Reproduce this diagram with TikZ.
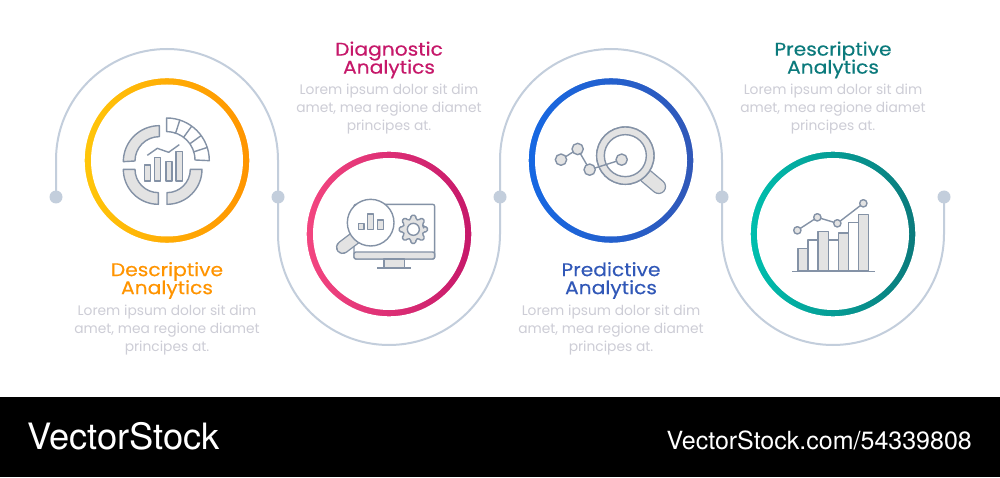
\documentclass[tikz,border=0pt]{standalone}
\usepackage{fontspec}
\usepackage{tikz}
\setmainfont{Poppins}
\newfontfamily\titlefont[FakeBold=0.35,FakeStretch=1.1]{Poppins}
\newfontfamily\markfont{TeX Gyre Heros}
\newcommand{\tightlines}{\lineskiplimit -20pt\relax}
\definecolor{trackgray}{HTML}{C3CEDC}
\definecolor{icongray}{HTML}{8492A6}
\definecolor{fillgray}{HTML}{E3E3E3}
\definecolor{bodygray}{HTML}{CDCDD6}
\definecolor{descL}{HTML}{FFC60A}
\definecolor{descR}{HTML}{FF9400}
\definecolor{diagL}{HTML}{F34680}
\definecolor{diagR}{HTML}{C6186A}
\definecolor{predL}{HTML}{1668E3}
\definecolor{predR}{HTML}{3158B8}
\definecolor{presL}{HTML}{00BFAE}
\definecolor{presR}{HTML}{0B7A7C}
\tikzset{
	dotnode/.style={circle,fill=trackgray,minimum size=13pt,inner sep=0pt},
	track/.style={draw=trackgray,line width=2pt},
	ringedge/.style={draw=white,line width=1.6pt,fill=none},
	titlenode/.style={align=center,inner sep=0pt,font={\titlefont\fontsize{18.4}{18}\selectfont\tightlines}},
	bodynode/.style={align=center,inner sep=0pt,text=bodygray,font={\fontsize{13.8}{17.6}\selectfont\tightlines}},
	icon/.style={draw=icongray,line width=1.4pt,line join=round},
	icongrey/.style={icon,fill=fillgray},
	iconwhite/.style={icon,fill=white}
}
\begin{document}
\begin{tikzpicture}[x=1pt,y=1pt]
	\useasboundingbox (0,0) rectangle (1000,477);
	\fill[white] (0,0) rectangle (1000,477);
	\fill[black] (0,0) rectangle (1000,80);
	\draw (56,280) node(d1) [dotnode] {};
	\draw (278,280) node(d2) [dotnode] {};
	\draw (500,280) node(d3) [dotnode] {};
	\draw (722,280) node(d4) [dotnode] {};
	\draw (944,280) node(d5) [dotnode] {};
	\path[track] (d1.center) -- (56,317) arc[start angle=180,end angle=0,radius=111] -- (d2.center);
	\path[track] (d2.center) -- (278,243) arc[start angle=180,end angle=360,radius=111] -- (d3.center);
	\path[track] (d3.center) -- (500,317) arc[start angle=180,end angle=0,radius=111] -- (d4.center);
	\path[track] (d4.center) -- (722,243) arc[start angle=180,end angle=360,radius=111] -- (d5.center);
	% rings
	\path[left color=descL,right color=descR] (167,316.5) circle (83);
	\fill[white] (167,316.5) circle (76);
	\path[ringedge] (167,316.5) circle (83.1);
	\path[left color=diagL,right color=diagR] (389,243) circle (83);
	\fill[white] (389,243) circle (76);
	\path[ringedge] (389,243) circle (83.1);
	\path[left color=predL,right color=predR] (611,316.5) circle (83);
	\fill[white] (611,316.5) circle (76);
	\path[ringedge] (611,316.5) circle (83.1);
	\path[left color=presL,right color=presR] (833,243) circle (83);
	\fill[white] (833,243) circle (76);
	\path[ringedge] (833,243) circle (83.1);
	% texts
	\draw (167,196.5) node(t1) [titlenode,text=descR] {Descriptive\\Analytics};
	\draw (167,147) node(b1) [bodynode] {Lorem ipsum dolor sit dim\\amet, mea regione diamet\\principes at.};
	\draw (389,417) node(t2) [titlenode,text=diagR] {Diagnostic\\Analytics};
	\draw (389,368) node(b2) [bodynode] {Lorem ipsum dolor sit dim\\amet, mea regione diamet\\principes at.};
	\draw (611,196.5) node(t3) [titlenode,text=predR] {Predictive\\Analytics};
	\draw (611,147) node(b3) [bodynode] {Lorem ipsum dolor sit dim\\amet, mea regione diamet\\principes at.};
	\draw (833,417) node(t4) [titlenode,text=presR] {Prescriptive\\Analytics};
	\draw (833,368) node(b4) [bodynode] {Lorem ipsum dolor sit dim\\amet, mea regione diamet\\principes at.};
	\draw (27,41) node(m1) [anchor=west,inner sep=0pt,text=white,font=\markfont\fontsize{36.3}{36}\selectfont] {VectorStock};
	\draw (972,37) node(m2) [anchor=east,inner sep=0pt,text=white,font=\markfont\fontsize{25}{25}\selectfont] {VectorStock.com/54339808};
	% icon 1
	\begin{scope}[shift={(40,437)},x=0.3333pt,y=-0.3333pt]
		\path[icongrey] (250,365) arc[start angle=180,end angle=270,radius=108] -- (358,290) arc[start angle=270,end angle=180,radius=73] -- cycle;
		\path[icongrey] (250,388) arc[start angle=180,end angle=90,radius=105] -- (355,458) arc[start angle=90,end angle=180,radius=70] -- cycle;
		\path[icongrey] (486,388) arc[start angle=0,end angle=90,radius=105] -- (381,458) arc[start angle=90,end angle=0,radius=70] -- cycle;
		\path[iconwhite] (508,362) arc[start angle=0,end angle=-90,radius=128] -- (380,275) arc[start angle=-90,end angle=0,radius=85] -- cycle;
		\foreach \a in {18,36,54,72}
			\path[icon] ({380+85*cos(\a)},{362-85*sin(\a)}) -- ({380+128*cos(\a)},{362-128*sin(\a)});
		\path[icongrey] (313,375) rectangle (331,423);
		\path[icongrey] (344,352) rectangle (362,423);
		\path[icongrey] (378,364) rectangle (396,423);
		\path[icongrey] (408,334) rectangle (428,423);
		\path[icon] (322,346) -- (352,325) -- (386,337) -- (418,314);
	\end{scope}
	% icon 2
	\begin{scope}[shift={(290,337)},x=0.3333pt,y=-0.3333pt]
		\path[iconwhite,rounded corners=2pt] (192,357) rectangle (434,193);
		\path[icongrey,rounded corners=2pt] (192,357) rectangle (434,336);
		\path[icongrey] (282,357) rectangle (344,383);
		\path[icon] (262,384) -- (364,384);
		\draw[icongray,line width=13.5pt,line cap=round] (200,290) -- (158,322);
		\draw[fillgray,line width=10.8pt,line cap=round] (200,290) -- (158,322);
		\path[iconwhite] (242,248) circle (70);
		\path[icongrey] (206,250) rectangle (222,268);
		\path[icongrey] (233,222) rectangle (251,268);
		\path[icongrey] (262,240) rectangle (280,268);
		\path[icongrey,rounded corners=1.5pt] ({370+31*cos(-16)},{268+31*sin(-16)})
			\foreach \a in {0,45,...,315} {
				-- ({370+31*cos(\a-14)},{268+31*sin(\a-14)})
				-- ({370+43*cos(\a-10)},{268+43*sin(\a-10)})
				-- ({370+43*cos(\a+10)},{268+43*sin(\a+10)})
				-- ({370+31*cos(\a+14)},{268+31*sin(\a+14)})
			} -- cycle;
		\path[iconwhite] (370,268) circle (18);
	\end{scope}
	% icon 3
	\begin{scope}[shift={(510,407)},x=0.3333pt,y=-0.3333pt]
		\draw[icongray,line width=15pt,line cap=round] (408,318) -- (446,350);
		\draw[fillgray,line width=12.3pt,line cap=round] (408,318) -- (446,350);
		\path[iconwhite] (346,257) circle (86);
		\path[icongrey,even odd rule] (346,257) circle (86) circle (63);
		\path[icon] (153,269) -- (203,237) -- (239,299) -- (335,269);
		\path[icongrey] (153,269) circle (17);
		\path[icongrey] (203,237) circle (17);
		\path[icongrey] (239,299) circle (17);
		\path[icongrey] (335,269) circle (17);
	\end{scope}
	% icon 4
	\begin{scope}[shift={(730,337)},x=0.3333pt,y=-0.3333pt]
		\path[icongrey] (204,325) rectangle (234,393);
		\path[iconwhite] (234,300) rectangle (264,393);
		\path[icongrey] (264,274) rectangle (295,393);
		\path[iconwhite] (295,300) rectangle (325,393);
		\path[icongrey] (325,279) rectangle (355,393);
		\path[iconwhite] (355,248) rectangle (385,393);
		\path[icongrey] (385,223) rectangle (415,393);
		\path[icon] (186,394) -- (434,394);
		\path[icon] (202,271) -- (262,232) -- (322,250) -- (400,190);
		\path[icongrey] (202,271) circle (11);
		\path[icongrey] (262,232) circle (11);
		\path[icongrey] (322,250) circle (11);
		\path[icongrey] (400,190) circle (11);
	\end{scope}
\end{tikzpicture}
\end{document}
